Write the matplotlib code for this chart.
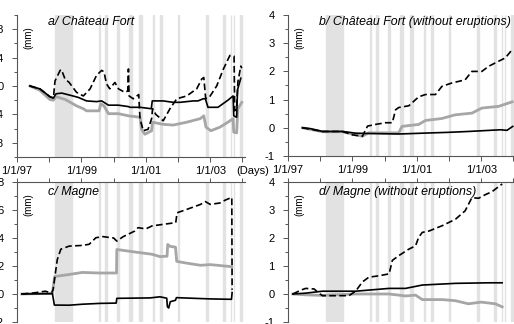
import numpy as np
import pandas as pd
import matplotlib
matplotlib.use("Agg")
import matplotlib.pyplot as plt
from matplotlib.ticker import FixedLocator, FuncFormatter

plt.rcParams['font.family'] = ['Liberation Sans', 'DejaVu Sans']

# eruption periods (start, end)
eruptions = [("1998-03-09", "1998-09-21"), ("1999-07-19", "1999-07-31"),
             ("1999-09-28", "1999-10-23"), ("2000-02-14", "2000-03-04"),
             ("2000-06-23", "2000-07-30"), ("2000-10-12", "2000-11-13"),
             ("2001-03-27", "2001-04-04"), ("2001-06-11", "2001-07-07"),
             ("2002-01-05", "2002-01-16"), ("2002-11-16", "2002-12-03"),
             ("2003-05-30", "2003-06-22"), ("2003-08-22", "2003-08-27"),
             ("2003-09-30", "2003-10-01"), ("2003-12-07", "2003-12-25")]

# a/ Chateau Fort
a_t_dash = [1997.40, 1997.71, 1998.02, 1998.13, 1998.18, 1998.34, 1998.38, 1998.49, 1998.62,
            1998.85, 1999.06, 1999.27, 1999.47, 1999.63, 1999.70, 1999.78, 1999.88, 2000.04,
            2000.15, 2000.35, 2000.44, 2000.46, 2000.48, 2000.61, 2000.78, 2000.82, 2000.92,
            2001.07, 2001.18, 2001.21, 2001.31, 2001.54, 2001.75, 2001.96, 2002.27, 2002.58,
            2002.74, 2002.80, 2002.86, 2002.97, 2003.20, 2003.41, 2003.61, 2003.74, 2003.76,
            2003.82, 2003.86, 2003.95, 2003.98]
a_dash = [0.00, -0.04, -0.15, -0.17, 0.07, 0.22, 0.23, 0.10, 0.05,
          -0.09, -0.14, -0.04, 0.15, 0.22, 0.20, 0.03, -0.04, 0.05,
          -0.04, -0.09, -0.07, 0.24, -0.14, -0.18, -0.12, -0.46, -0.63,
          -0.61, -0.46, -0.32, -0.40, -0.49, -0.32, -0.18, -0.14, -0.04,
          0.10, 0.12, -0.18, -0.16, 0.00, 0.24, 0.43, 0.42, -0.35,
          -0.30, 0.06, 0.28, 0.25]
a_t_black = [1997.40, 1997.71, 1998.02, 1998.13, 1998.21, 1998.39, 1998.65, 1998.90, 1999.16,
             1999.47, 1999.63, 1999.84, 2000.15, 2000.46, 2000.51, 2000.82, 2001.17, 2001.20,
             2001.54, 2001.85, 2002.06, 2002.48, 2002.62, 2002.78, 2002.85, 2002.93, 2003.24,
             2003.55, 2003.71, 2003.73, 2003.82, 2003.85, 2003.95]
a_black = [0.00, -0.04, -0.15, -0.17, -0.11, -0.10, -0.13, -0.16, -0.21,
           -0.22, -0.21, -0.27, -0.27, -0.29, -0.30, -0.30, -0.32, -0.21,
           -0.21, -0.23, -0.23, -0.21, -0.21, -0.18, -0.18, -0.30, -0.30,
           -0.20, -0.14, -0.42, -0.44, -0.05, 0.11]
a_t_gray = [1997.40, 1997.71, 1998.02, 1998.13, 1998.21, 1998.50, 1998.85, 1999.06, 1999.16,
            1999.55, 1999.60, 1999.70, 1999.84, 2000.15, 2000.46, 2000.82, 2000.87, 2000.97,
            2001.18, 2001.21, 2001.54, 2001.85, 2002.27, 2002.69, 2002.80, 2002.87, 2003.02,
            2003.30, 2003.55, 2003.71, 2003.73, 2003.82, 2003.86, 2003.98]
a_gray = [0.00, -0.06, -0.19, -0.20, -0.15, -0.19, -0.28, -0.32, -0.35,
          -0.35, -0.25, -0.28, -0.39, -0.39, -0.42, -0.44, -0.61, -0.68,
          -0.63, -0.51, -0.54, -0.55, -0.51, -0.46, -0.42, -0.58, -0.63,
          -0.58, -0.51, -0.46, -0.65, -0.66, -0.32, -0.23]

# b/ Chateau Fort without eruptions
b_t_black = [1997.45, 1997.70, 1998.07, 1998.69, 1999.10, 1999.40, 2000.44, 2001.20, 2002.00,
             2002.60, 2003.60, 2003.80, 2003.98]
b_black = [0.00, -0.03, -0.13, -0.13, -0.19, -0.20, -0.22, -0.19, -0.16,
           -0.13, -0.07, -0.09, 0.05]
b_t_dash = [1997.45, 1998.07, 1998.69, 1999.00, 1999.31, 1999.47, 1999.72, 2000.03, 2000.24,
            2000.34, 2000.44, 2000.75, 2001.06, 2001.27, 2001.58, 2001.78, 2002.09, 2002.50,
            2002.71, 2003.02, 2003.23, 2003.54, 2003.75, 2003.96]
b_dash = [0.00, -0.13, -0.13, -0.25, -0.30, 0.06, 0.12, 0.18, 0.18,
          0.64, 0.72, 0.78, 1.10, 1.18, 1.18, 1.47, 1.59, 1.70,
          2.00, 2.00, 2.18, 2.36, 2.48, 2.77]
b_t_gray = [1997.45, 1998.07, 1998.69, 1999.10, 1999.31, 1999.50, 2000.44, 2000.54, 2001.06,
            2001.27, 2001.78, 2002.19, 2002.71, 2003.02, 2003.54, 2003.96]
b_gray = [0.00, -0.14, -0.14, -0.25, -0.30, -0.18, -0.18, 0.05, 0.12,
          0.26, 0.33, 0.46, 0.52, 0.70, 0.76, 0.92]

# c/ Magne
c_t_black = [1997.15, 1998.10, 1998.16, 1998.62, 1999.03, 1999.58, 2000.08, 2000.10, 2001.13,
             2001.44, 2001.65, 2001.67, 2001.71, 2001.76, 2001.92, 2001.95, 2002.40, 2003.00,
             2003.66, 2003.68]
c_black = [0.00, 0.02, -0.79, -0.80, -0.73, -0.67, -0.65, -0.31, -0.28,
           -0.20, -0.30, -0.91, -1.00, -0.55, -0.45, -0.26, -0.30, -0.35,
           -0.38, 0.10]
c_t_dash = [1997.15, 1997.50, 1997.88, 1998.07, 1998.12, 1998.25, 1998.36, 1998.62, 1999.03,
            1999.24, 1999.45, 1999.66, 2000.00, 2000.10, 2000.30, 2000.66, 2000.76, 2001.00,
            2001.19, 2001.46, 2001.78, 2001.93, 2001.97, 2002.28, 2002.70, 2002.85, 2003.00,
            2003.30, 2003.46, 2003.67, 2003.68]
c_dash = [0.00, 0.07, 0.20, 0.07, 0.30, 2.45, 3.20, 3.42, 3.47,
          3.55, 4.02, 4.10, 4.00, 3.78, 4.10, 4.50, 4.74, 4.65,
          4.86, 4.95, 5.05, 5.10, 5.80, 6.05, 6.40, 6.60, 6.40,
          6.50, 6.70, 6.90, 0.30]
c_t_gray = [1997.15, 1998.10, 1998.17, 1998.55, 1999.03, 1999.55, 2000.09, 2000.10, 2000.66,
            2001.19, 2001.44, 2001.66, 2001.68, 2001.76, 2001.92, 2001.96, 2002.28, 2002.70,
            2003.00, 2003.67]
c_gray = [0.00, 0.05, 1.25, 1.37, 1.54, 1.50, 1.50, 3.18, 3.00,
          2.84, 2.67, 2.70, 3.54, 3.40, 3.35, 2.33, 2.20, 2.05,
          2.10, 1.95]

# d/ Magne without eruptions
d_t_black = [1997.15, 1997.55, 1998.07, 1999.10, 2000.14, 2000.65, 2001.17, 2002.20, 2003.23, 2003.65]
d_black = [0.00, 0.03, 0.10, 0.10, 0.20, 0.20, 0.32, 0.38, 0.40, 0.40]
d_t_dash = [1997.15, 1997.40, 1997.55, 1997.81, 1997.96, 1998.07, 1998.89, 1999.10, 1999.31,
            1999.51, 1999.82, 2000.14, 2000.24, 2000.44, 2000.75, 2000.96, 2001.06, 2001.17,
            2001.38, 2001.79, 2002.20, 2002.50, 2002.71, 2002.92, 2003.13, 2003.33, 2003.65]
d_dash = [0.00, 0.14, 0.20, 0.18, 0.03, -0.06, -0.06, 0.10, 0.43,
          0.60, 0.65, 0.72, 1.20, 1.37, 1.60, 1.72, 2.03, 2.20,
          2.25, 2.44, 2.67, 2.97, 3.44, 3.42, 3.55, 3.65, 3.93]
d_t_gray = [1997.15, 1997.55, 1998.07, 1999.10, 2000.14, 2000.65, 2000.96, 2001.17, 2001.79,
            2002.20, 2002.60, 2003.00, 2003.44, 2003.65]
d_gray = [0.00, -0.03, -0.05, 0.00, 0.00, -0.07, -0.04, -0.20, -0.20,
          -0.24, -0.35, -0.29, -0.35, -0.46]

titles = ["a/ Château Fort", "b/ Château Fort (without eruptions)",
          "c/ Magne", "d/ Magne (without eruptions)"]


def dec_year(s):
    d = pd.Timestamp(s)
    start = pd.Timestamp(year=d.year, month=1, day=1)
    return d.year + (d - start).days / 365.25


W, H = 514, 324
fig = plt.figure(figsize=(W / 100, H / 100), dpi=100)

# axes boxes in pixels: left, top, width, height
boxes = [(17, 15, 228, 142), (288, 15, 228, 141), (17, 182, 228, 140), (288, 182, 228, 140)]
axs = [fig.add_axes([l / W, 1 - (t + h) / H, w / W, h / H]) for l, t, w, h in boxes]

panels = [
    (a_t_gray, a_gray, a_t_black, a_black, a_t_dash, a_dash),
    (b_t_gray, b_gray, b_t_black, b_black, b_t_dash, b_dash),
    (c_t_gray, c_gray, c_t_black, c_black, c_t_dash, c_dash),
    (d_t_gray, d_gray, d_t_black, d_black, d_t_dash, d_dash),
]
ylims = [(-1, 1), (-1, 4), (-2, 8), (-1, 4)]
ymajor = [[-0.8, -0.4, 0, 0.4, 0.8], np.arange(-1, 5, 1), np.arange(-2, 9, 2), np.arange(-1, 5, 1)]
yminor = [[-1, -0.6, -0.2, 0.2, 0.6, 1], np.arange(-0.5, 4, 1), np.arange(-1, 8, 2), np.arange(-0.5, 4, 1)]

axis_col = "#555555"
for i, ax in enumerate(axs):
    for s, e in eruptions:
        ax.axvspan(dec_year(s), dec_year(e), facecolor="#e2e2e2", edgecolor="#e2e2e2",
                   lw=1.0, zorder=0)
    tg, g, tb, b, td, dsh = panels[i]
    ax.plot(tg, g, color="#a6a6a6", lw=2.0, zorder=2)
    ax.plot(tb, b, color="black", lw=1.2, zorder=3)
    ax.plot(td, dsh, color="black", lw=1.2, dashes=(4, 2), zorder=4)

    ax.set_xlim(1997.0, 2004.08)
    ax.set_ylim(*ylims[i])
    ax.yaxis.set_major_locator(FixedLocator(ymajor[i]))
    ax.yaxis.set_minor_locator(FixedLocator(yminor[i]))
    ax.yaxis.set_major_formatter(FuncFormatter(lambda v, p: "%g" % round(v, 1)))
    ax.xaxis.set_major_locator(FixedLocator([1997, 1999, 2001, 2003]))
    ax.xaxis.set_minor_locator(FixedLocator([1998, 2000, 2002, 2004]))
    ax.xaxis.set_major_formatter(FuncFormatter(lambda v, p: "1/1/%02d" % (int(round(v)) % 100)))

    ax.spines["right"].set_visible(False)
    ax.spines["left"].set_color(axis_col)
    if i < 2:
        ax.spines["top"].set_visible(False)
        ax.spines["bottom"].set_color(axis_col)
        ax.tick_params(axis="x", which="both", direction="out", length=3.5, width=0.7,
                       color=axis_col, labelsize=8, pad=3)
    else:
        ax.spines["bottom"].set_visible(False)
        ax.spines["top"].set_color(axis_col)
        ax.tick_params(axis="x", which="both", direction="out", length=3, width=0.7,
                       color=axis_col, bottom=False, top=True, labelbottom=False)
    ax.tick_params(axis="y", which="major", direction="out", length=3.5, width=0.7,
                   color=axis_col, labelsize=8, pad=6)
    ax.tick_params(axis="y", which="minor", direction="out", length=2, width=0.7, color=axis_col)
    ax.set_facecolor("none")

    ty = 0.95 if i < 2 else 0.93
    ax.text(0.134, ty, titles[i], transform=ax.transAxes, style="italic", fontsize=8.9,
            ha="left", va="center")
    ax.text(0.048, 0.84, "(mm)", transform=ax.transAxes, rotation=90, fontsize=7,
            ha="center", va="center")

fig.text(253 / W, 1 - 171 / H, "(Days)", fontsize=8, ha="center", va="center")

fig.savefig("out.png", dpi=100)
